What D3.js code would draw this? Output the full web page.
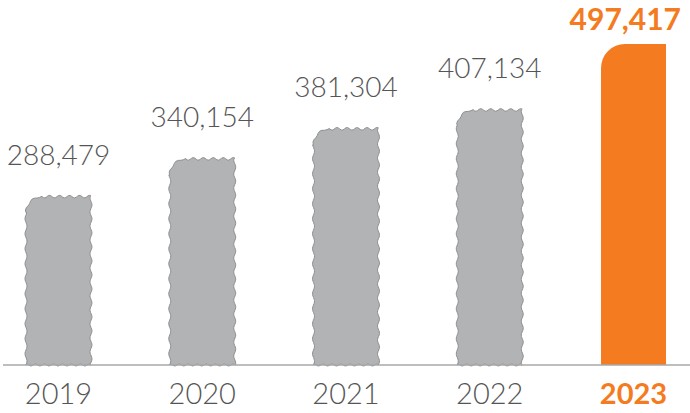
<!DOCTYPE html>
<html><head><meta charset="utf-8">
<script src="https://cdn.jsdelivr.net/npm/d3@7"></script>
<style>
html,body{margin:0;padding:0;background:#fff;}
svg{display:block;}
text{font-family:"Lato","Open Sans",sans-serif;}
</style></head>
<body>
<svg id="chart" width="690" height="413"></svg>
<script>
const years = ["2019","2020","2021","2022","2023"];
const values = [288479, 340154, 381304, 407134, 497417];
const labels = ["288,479","340,154","381,304","407,134","497,417"];
const highlight = "2023";

const W = 690, H = 413;
const svg = d3.select("#chart");
const baseY = 365;

const x = d3.scaleBand().domain(years).range([26, 666]).paddingInner(0.548).paddingOuter(0);
const y = d3.scaleLinear().domain([58000, 497417]).range([baseY, 44]);

const gray = "#b2b3b5", grayStroke = "#8e8f91", orange = "#f47b20", textGray = "#555";

function wavy(x0, y0, x1, y1, amp, wl, phase) {
  const dx = x1 - x0, dy = y1 - y0, len = Math.hypot(dx, dy);
  const nx = -dy / len, ny = dx / len;
  const n = Math.max(2, Math.round(len / 1.5));
  const pts = [];
  for (let i = 0; i <= n; i++) {
    const t = i / n;
    const o = amp * Math.sin((t * len) / wl * 2 * Math.PI + phase);
    pts.push([x0 + dx * t + nx * o, y0 + dy * t + ny * o]);
  }
  return pts;
}

function grayBarPath(x0, x1, top, bottom) {
  const r = 16;
  const pts = [];
  pts.push(...wavy(x0, bottom, x0, top + r, 1.0, 15, 0));
  for (let i = 0; i <= 10; i++) {
    const a = Math.PI + (i / 10) * Math.PI / 2;
    const rr = r + 0.8 * Math.sin(i * 1.3);
    pts.push([x0 + r + rr * Math.cos(a), top + r + rr * Math.sin(a)]);
  }
  pts.push(...wavy(x0 + r, top, x1, top, 1.3, 10, 0));
  pts.push(...wavy(x1, top, x1, bottom, 1.0, 14, 1));
  pts.push(...wavy(x1, bottom, x0, bottom, 1.0, 9, 0.5));
  return d3.line().curve(d3.curveLinearClosed)(pts);
}

function orangeBarPath(x0, x1, top, bottom) {
  const r = 24;
  return `M${x0},${bottom}L${x0},${top + r}A${r},${r} 0 0 1 ${x0 + r},${top}L${x1},${top}L${x1},${bottom}Z`;
}

const g = svg.append("g");
years.forEach((yr, i) => {
  const x0 = x(yr), x1 = x(yr) + x.bandwidth();
  const top = y(values[i]);
  if (yr === highlight) {
    g.append("path").attr("d", orangeBarPath(x0, x1, top, baseY)).attr("fill", orange);
  } else {
    g.append("path").attr("d", grayBarPath(x0, x1, top, baseY))
      .attr("fill", gray).attr("stroke", grayStroke).attr("stroke-width", 1);
  }
});

svg.append("line").attr("x1", 3).attr("x2", W).attr("y1", baseY).attr("y2", baseY)
  .attr("stroke", "#a8a8a8").attr("stroke-width", 1.5);

years.forEach((yr, i) => {
  const hl = yr === highlight;
  const cx = x(yr) + x.bandwidth() / 2;
  const t = svg.append("text")
    .attr("x", cx)
    .attr("y", y(values[i]) - (hl ? 14 : 32))
    .attr("text-anchor", "middle")
    .attr("font-size", hl ? 30 : 28)
    .attr("font-weight", hl ? 700 : 300)
    .attr("fill", hl ? orange : textGray)
    .text(labels[i]);
  const w = t.node().getComputedTextLength();
  if (cx + w / 2 > W - 9) t.attr("x", W - 9 - w / 2);
});

years.forEach((yr) => {
  const hl = yr === highlight;
  svg.append("text")
    .attr("x", x(yr) + x.bandwidth() / 2)
    .attr("y", 404)
    .attr("text-anchor", "middle")
    .attr("font-size", 29)
    .attr("font-weight", hl ? 700 : 300)
    .attr("fill", hl ? orange : textGray)
    .text(yr);
});
</script>
</body></html>
